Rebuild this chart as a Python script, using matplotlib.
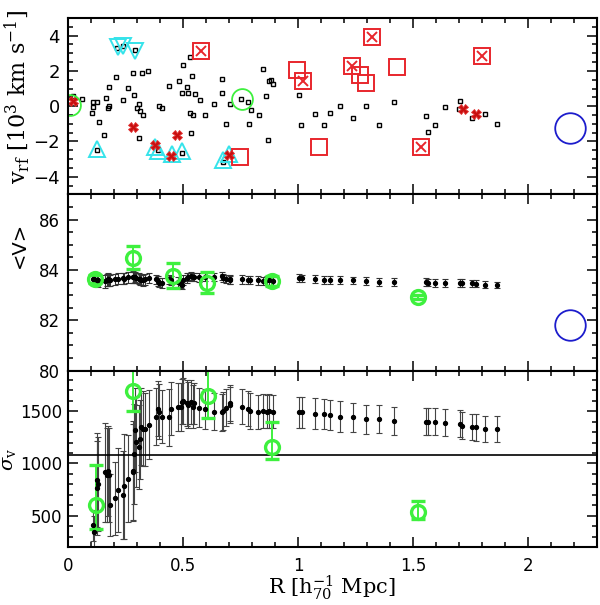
import numpy as np
import matplotlib
matplotlib.use("Agg")
import matplotlib.pyplot as plt
from matplotlib.ticker import MultipleLocator

plt.rcParams['mathtext.fontset'] = 'dejavuserif'

# ---- top panel: galaxy rest-frame velocities vs radius
gal_r = [0.019, 0.060, 0.109, 0.126, 0.109, 0.104, 0.132, 0.157, 0.123, 0.165,
         0.175, 0.178, 0.174, 0.206, 0.213, 0.239, 0.290, 0.236, 0.259, 0.283,
         0.284, 0.322, 0.348, 0.297, 0.309, 0.312, 0.326, 0.309, 0.396, 0.409,
         0.391, 0.436, 0.483, 0.497, 0.530, 0.539, 0.514, 0.494, 0.522, 0.552,
         0.529, 0.543, 0.573, 0.596, 0.532, 0.493, 0.635, 0.667, 0.670, 0.684,
         0.702, 0.671, 0.752, 0.780, 0.793, 0.784, 0.828, 0.848, 0.873, 0.880,
         0.889, 0.861, 0.870, 1.003, 1.013, 1.073, 1.113, 1.138, 1.181, 1.236,
         1.294, 1.352, 1.417, 1.555, 1.565, 1.593, 1.638, 1.703, 1.700, 1.755,
         1.812, 1.863]
gal_v = [0.57, 0.38, 0.25, 0.25, -0.06, -0.40, -0.88, -1.66, -2.48, 0.46,
         1.09, 0.00, -0.08, 1.66, 3.28, 3.39, 3.18, 0.34, 1.01, 1.89,
         0.63, 1.90, 2.00, -0.13, 0.10, -0.29, -0.51, -1.81, 0.00, -0.11,
         -2.48, 1.12, 1.43, 2.32, 2.76, 1.70, 1.10, 0.74, 0.76, 0.70,
         -0.38, -0.51, 0.35, -0.48, -1.54, -2.67, 0.10, 1.53, 0.74, -1.00,
         0.14, -3.16, 0.38, 0.21, -0.21, -1.00, -0.53, 2.08, 1.43, 1.47,
         1.24, 0.57, -1.90, 0.63, -1.05, -0.47, -1.05, -0.38, -0.02, -0.66,
         0.02, -1.06, 0.21, -0.55, -1.45, -1.06, -0.04, 0.31, -0.15, -0.70,
         -0.47, -1.03]

cross_r = [0.019, 0.283, 0.378, 0.445, 0.474, 0.700, 1.715, 1.771]
cross_v = [0.29, -1.18, -2.23, -2.80, -1.66, -2.78, -0.19, -0.44]

boxx_r = [0.577, 1.022, 1.320, 1.235, 1.797, 1.532]
boxx_v = [3.14, 1.43, 3.91, 2.25, 2.82, -2.34]

box_r = [0.747, 0.993, 1.090, 1.268, 1.293, 1.428]
box_v = [-2.89, 2.06, -2.34, 1.75, 1.34, 2.23]

tri_up_r = [0.123, 0.377, 0.390, 0.450, 0.493, 0.671, 0.700]
tri_up_v = [-2.42, -2.29, -2.57, -2.70, -2.57, -3.05, -2.70]
tri_dn_r = [0.217, 0.239, 0.290]
tri_dn_v = [3.34, 3.43, 3.14]

grp_r = [0.007, 0.754]
grp_v = [0.04, 0.38]

# ---- radial profiles (middle: mean velocity, bottom: dispersion)
prof_r = [0.106, 0.112, 0.123, 0.126, 0.128, 0.158, 0.167, 0.174, 0.177, 0.181,
          0.203, 0.215, 0.239, 0.242, 0.260, 0.283, 0.283, 0.286, 0.288, 0.294,
          0.309, 0.312, 0.316, 0.326, 0.333, 0.349, 0.380, 0.391, 0.396, 0.409,
          0.438, 0.447, 0.478, 0.490, 0.493, 0.500, 0.515, 0.522, 0.533, 0.541,
          0.548, 0.570, 0.595, 0.635, 0.667, 0.671, 0.686, 0.703, 0.703, 0.754,
          0.783, 0.790, 0.827, 0.848, 0.862, 0.874, 0.889, 1.005, 1.015, 1.073,
          1.113, 1.138, 1.181, 1.236, 1.294, 1.352, 1.417, 1.555, 1.565, 1.593,
          1.638, 1.703, 1.713, 1.755, 1.771, 1.812, 1.863]
mean_v = [83.62, 83.62, 83.60, 83.60, 83.58, 83.55, 83.60, 83.62, 83.60, 83.58,
          83.62, 83.65, 83.66, 83.65, 83.70, 83.72, 83.70, 83.70, 83.72, 83.68,
          83.65, 83.62, 83.60, 83.58, 83.62, 83.68, 83.62, 83.55, 83.50, 83.48,
          83.62, 83.58, 83.52, 83.45, 83.42, 83.60, 83.68, 83.72, 83.75, 83.72,
          83.72, 83.70, 83.72, 83.73, 83.75, 83.68, 83.65, 83.62, 83.60, 83.62,
          83.60, 83.60, 83.58, 83.55, 83.58, 83.58, 83.55, 83.68, 83.66, 83.64,
          83.60, 83.60, 83.60, 83.58, 83.55, 83.53, 83.53, 83.52, 83.50, 83.48,
          83.48, 83.48, 83.48, 83.47, 83.46, 83.42, 83.40]
mean_err = [0.20, 0.20, 0.25, 0.25, 0.25, 0.26, 0.25, 0.25, 0.24, 0.22,
            0.22, 0.22, 0.22, 0.22, 0.22, 0.22, 0.22, 0.22, 0.21, 0.21,
            0.21, 0.21, 0.20, 0.20, 0.20, 0.20, 0.19, 0.19, 0.19, 0.19,
            0.18, 0.18, 0.18, 0.18, 0.18, 0.18, 0.18, 0.17, 0.17, 0.17,
            0.17, 0.17, 0.17, 0.16, 0.16, 0.16, 0.16, 0.16, 0.16, 0.16,
            0.16, 0.16, 0.16, 0.16, 0.16, 0.16, 0.16, 0.15, 0.15, 0.15,
            0.15, 0.15, 0.15, 0.15, 0.15, 0.15, 0.15, 0.14, 0.14, 0.14,
            0.14, 0.14, 0.14, 0.13, 0.13, 0.13, 0.13]
sigma_v = [409, 345, 843, 763, 802, 914, 888, 929, 888, 601,
           665, 747, 696, 780, 856, 929, 914, 1089, 1319, 1207,
           1159, 1233, 1354, 1335, 1329, 1370, 1450, 1527, 1498, 1450,
           1441, 1527, 1546, 1543, 1594, 1600, 1584, 1561, 1591, 1546,
           1575, 1536, 1520, 1498, 1489, 1504, 1536, 1578, 1559, 1546,
           1527, 1504, 1494, 1504, 1498, 1504, 1498, 1489, 1489, 1479,
           1472, 1463, 1450, 1441, 1424, 1424, 1408, 1402, 1402, 1402,
           1392, 1383, 1360, 1351, 1345, 1329, 1329]
sigma_err = [150, 150, 450, 450, 450, 470, 450, 430, 450, 300,
             350, 400, 420, 500, 420, 480, 460, 480, 400, 430,
             400, 380, 370, 360, 350, 330, 270, 260, 260, 250,
             270, 250, 230, 230, 220, 220, 220, 220, 210, 210,
             200, 190, 190, 180, 180, 180, 180, 170, 170, 170,
             170, 170, 165, 165, 160, 160, 160, 150, 150, 150,
             145, 145, 145, 140, 140, 135, 135, 130, 130, 130,
             130, 130, 130, 125, 125, 125, 125]

# subgroups (green) in the middle and bottom panels
sub_mean_r = [0.116, 0.283, 0.454, 0.604, 0.884, 1.519]
sub_mean_v = [83.64, 84.49, 83.77, 83.50, 83.57, 82.91]
sub_mean_err = [0.15, 0.45, 0.50, 0.43, 0.20, 0.08]

sub_sig_r = [0.119, 0.283, 0.609, 0.884, 1.522]
sub_sig = [603, 1690, 1648, 1159, 531]
sub_sig_lo = [226, 186, 214, 118, 60]
sub_sig_hi = [381, 250, 260, 234, 111]

sigma_ref = 1080
beam_r = 2.18
beam_top = -1.26
beam_mid = 81.83

RED = '#e8262c'
CYAN = '#35e3ea'
GREEN = '#3ef03e'
BLUE = '#1c1ccc'

fig = plt.figure(figsize=(6.0, 6.05), dpi=100)
left, width = 0.1138, 0.8817
ph = 0.2915
ax1 = fig.add_axes([left, 0.6788, width, ph])
ax2 = fig.add_axes([left, 0.3873, width, ph])
ax3 = fig.add_axes([left, 0.0959, width, ph])

for ax in (ax1, ax2, ax3):
    ax.set_xlim(0, 2.3)
    ax.xaxis.set_major_locator(MultipleLocator(0.5))
    ax.xaxis.set_minor_locator(MultipleLocator(0.1))
    ax.tick_params(which='both', direction='in', top=True, right=True, width=1.1)
    ax.tick_params(which='major', length=7)
    ax.tick_params(which='minor', length=3.5)
    for sp in ax.spines.values():
        sp.set_linewidth(1.5)

# top
ax1.plot(gal_r, gal_v, 's', ms=3.2, mfc='none', mec='black', mew=1.0)
ax1.plot(tri_up_r, tri_up_v, '^', ms=12, mfc='none', mec=CYAN, mew=1.4)
ax1.plot(tri_dn_r, tri_dn_v, 'v', ms=12, mfc='none', mec=CYAN, mew=1.4)
ax1.plot(box_r, box_v, 's', ms=11, mfc='none', mec=RED, mew=1.4)
ax1.plot(boxx_r, boxx_v, 's', ms=11, mfc='none', mec=RED, mew=1.4)
ax1.plot(boxx_r, boxx_v, 'x', ms=6.5, mec=RED, mew=1.4)
ax1.plot(cross_r, cross_v, 'X', ms=7, mfc='#c81010', mec='#e23030', mew=0.6)
ax1.plot(grp_r, grp_v, 'o', ms=15, mfc='none', mec=GREEN, mew=1.3)
ax1.plot([beam_r], [beam_top], 'o', ms=22, mfc='none', mec=BLUE, mew=1.3)
ax1.set_ylim(-5, 5)
ax1.yaxis.set_major_locator(MultipleLocator(2))
ax1.yaxis.set_minor_locator(MultipleLocator(0.5))
ax1.tick_params(axis='y', labelsize=13, pad=6)
ax1.tick_params(axis='x', labelbottom=False)

# middle
ax2.errorbar(prof_r, mean_v, yerr=mean_err, fmt='o', ms=2.8, color='black',
             ecolor='#333333', elinewidth=0.8, capsize=2.2, capthick=0.8)
ax2.errorbar(sub_mean_r, sub_mean_v, yerr=sub_mean_err, fmt='o', ms=10,
             mfc='none', mec=GREEN, mew=2.4, ecolor=GREEN, elinewidth=1.4,
             capsize=5, capthick=1.4)
ax2.plot([beam_r], [beam_mid], 'o', ms=22, mfc='none', mec=BLUE, mew=1.3)
ax2.set_ylim(80, 87)
ax2.yaxis.set_major_locator(MultipleLocator(2))
ax2.yaxis.set_minor_locator(MultipleLocator(0.5))
ax2.tick_params(axis='y', labelsize=12, pad=6)
ax2.tick_params(axis='x', labelbottom=False)

# bottom
ax3.errorbar(prof_r, sigma_v, yerr=sigma_err, fmt='o', ms=2.8, color='black',
             ecolor='#444444', elinewidth=0.8, capsize=2.2, capthick=0.8)
ax3.errorbar(sub_sig_r, sub_sig, yerr=[sub_sig_lo, sub_sig_hi], fmt='o', ms=10,
             mfc='none', mec=GREEN, mew=2.4, ecolor=GREEN, elinewidth=1.4,
             capsize=5, capthick=1.4)
ax3.axhline(sigma_ref, color='black', lw=1.2)
ax3.set_ylim(200, 1890)
ax3.yaxis.set_major_locator(MultipleLocator(500))
ax3.yaxis.set_minor_locator(MultipleLocator(100))
ax3.tick_params(axis='y', labelsize=12, pad=4)
ax3.tick_params(axis='x', labelsize=12, pad=7)
ax3.set_xticks([0, 0.5, 1, 1.5, 2])
ax3.set_xticklabels(['0', '0.5', '1', '1.5', '2'])

fig.text(0.028, 0.84, r'v$_{\rm rf}$ [10$^3$ km s$^{-1}$]', rotation=90,
         ha='center', va='center', fontsize=16, family='DejaVu Serif')
fig.text(0.033, 0.595, '<V>', rotation=90, ha='center', va='center',
         fontsize=14, family='DejaVu Sans')
fig.text(0.014, 0.24, r'$\sigma_{\rm v}$', rotation=90, ha='center', va='center',
         fontsize=14)
fig.text(0.553, 0.028, r'R [h$_{70}^{-1}$ Mpc]', ha='center', va='center',
         fontsize=15, family='DejaVu Serif')

fig.savefig('out.png', dpi=100)
